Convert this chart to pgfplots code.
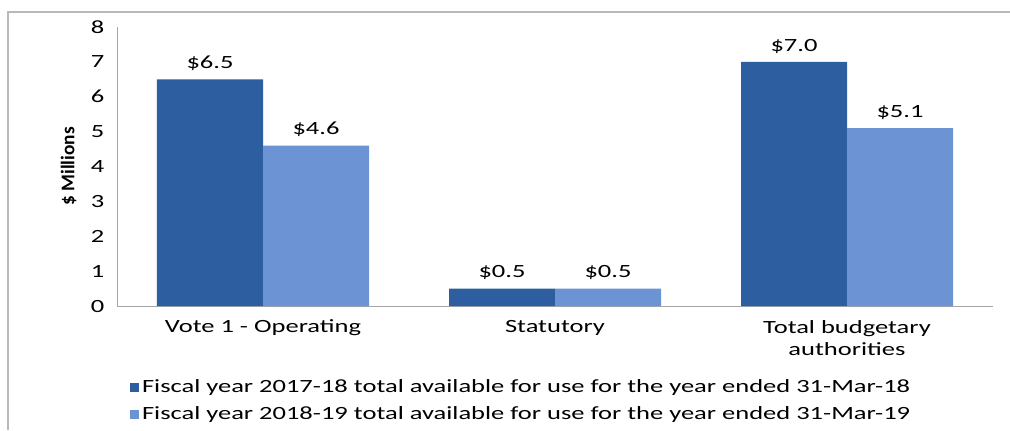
\documentclass[border=0pt]{standalone}
\usepackage{pgfplots}
\pgfplotsset{compat=1.18}
\usepackage{fontspec}
\setmainfont{Carlito}[FakeStretch=1.42]
\newfontfamily\ylfont{Carlito}
\definecolor{darkb}{RGB}{44,94,160}
\definecolor{lightb}{RGB}{108,148,212}
\begin{document}
\begin{tikzpicture}
\path[use as bounding box] (0pt,0pt) rectangle (757.5pt,322.5pt);
\draw[gray!55, line width=0.8pt] (6pt,0pt) -- (6pt,313.5pt) -- (757.5pt,313.5pt);
\begin{axis}[
  at={(87.75pt,93pt)}, anchor=south west,
  scale only axis, width=657pt, height=209.25pt,
  xmin=-0.5, xmax=2.5, ymin=0, ymax=8,
  ytick={0,1,...,8}, xtick={0,1,2},
  xticklabels={Vote 1 - Operating, Statutory, Total budgetary\\authorities},
  xticklabel style={align=center, font=\fontsize{14}{16.5}\selectfont, yshift=-7pt},
  yticklabel style={font=\fontsize{14}{15}\selectfont, xshift=-6pt},
  /pgf/number format/assume math mode=true,
  axis x line*=bottom, axis y line*=left,
  axis line style={gray!70, -},
  major tick length=0pt,
  ybar=0pt, bar width=79.5pt,
  ylabel={\ylfont\bfseries \$ Millions},
  ylabel style={font=\fontsize{14.5}{15}\selectfont, yshift=4pt},
  nodes near coords={\$\pgfmathprintnumber[fixed,fixed zerofill,precision=1]{\pgfplotspointmeta}},
  every node near coord/.append style={font=\fontsize{14}{15}\selectfont, color=black, yshift=3pt},
  legend style={at={(axis description cs:0.010,-0.245)}, anchor=north west, draw=none,
    font=\fontsize{14}{15}\selectfont, row sep=5pt},
  legend cell align=left,
  legend image code/.code={\fill[#1] (-5pt,-3.5pt) rectangle (2pt,3.5pt);},
]
\addplot[fill=darkb, draw=none] coordinates {(0,6.5) (1,0.5) (2,7.0)};
\addplot[fill=lightb, draw=none] coordinates {(0,4.6) (1,0.5) (2,5.1)};
\legend{Fiscal year 2017-18 total available for use for the year ended 31-Mar-18,
        Fiscal year 2018-19 total available for use for the year ended 31-Mar-19}
\end{axis}
\end{tikzpicture}
\end{document}
